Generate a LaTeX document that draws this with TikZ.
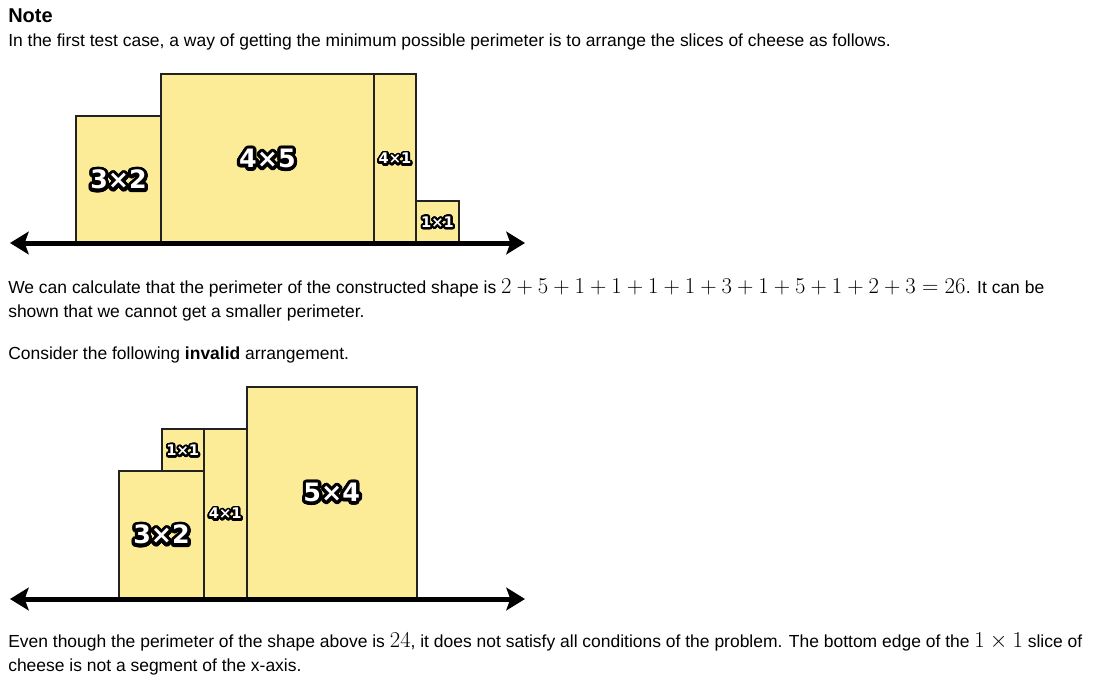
\RequirePackage{fix-cm}
\documentclass[tikz,border=0pt]{standalone}
\usepackage{fontspec}
\setmainfont{Liberation Sans}
\newfontfamily\slicefont{DejaVu Sans Bold}
\newfontfamily\rimfont{DejaVu Sans Bold}[FakeBold=3]
\usetikzlibrary{arrows.meta,positioning}

\definecolor{cheese}{RGB}{252,236,152}
\definecolor{rim}{RGB}{34,34,34}

% one slice unit
\newlength\cux
\setlength\cux{31.9pt}
\newlength\cuy
\setlength\cuy{31.7pt}

% white label with a black rim
\newcommand{\outlinetext}[2]{%
  \foreach \a in {0,22.5,...,337.5}{%
    \pgfmathsetmacro\dx{#1*cos(\a)}\pgfmathsetmacro\dy{#1*sin(\a)}%
    \rlap{\kern\dx pt\raisebox{\dy pt}{\rimfont\color{black}#2}}}%
  {\slicefont\color{white}#2}}
\newcommand{\bigmath}[1]{{\fontsize{17}{17}\selectfont$#1$}}

\tikzset{
  slice/.style={draw=rim, line width=1.5pt, fill=cheese, inner sep=0pt, outer sep=0pt,
    anchor=south west, font=\fontsize{19}{19}\selectfont},
  thin slice/.style={slice, font=\fontsize{11}{11}\selectfont},
  axis/.style={line width=3.75pt,
    {Stealth[length=14pt,width=17pt,inset=3pt]}-{Stealth[length=14pt,width=17pt,inset=3pt]}},
  prose/.style={anchor=base west, inner sep=0pt, font=\fontsize{13.1}{15.7}\selectfont}
}

\begin{document}
\begin{tikzpicture}[x=0.75pt, y=-0.75pt]
    \fill[white] (0,0) rectangle (1095,688);
    \useasboundingbox (0,0) rectangle (1095,688);

    % text
    \node[prose, font=\bfseries\fontsize{15}{18}\selectfont] (note) at (8,23) {Note};
    \node[prose] (first) at (8,47) {In the first test case, a way of getting the minimum possible perimeter is to arrange the slices of cheese as follows.};
    \node[prose] (calc) at (8,293) {We can calculate that the perimeter of the constructed shape is \bigmath{2+5+1+1+1+1+3+1+5+1+2+3=26}. It can be};
    \node[prose] (shown) at (8,317) {shown that we cannot get a smaller perimeter.};
    \node[prose] (consider) at (8,359) {Consider the following \textbf{invalid} arrangement.};
    \node[prose] (even) at (8,647) {Even though the perimeter of the shape above is \bigmath{24}, it does not satisfy all conditions of the problem. The bottom edge of the \bigmath{1\times 1} slice of};
    \node[prose] (cheese) at (8,671) {cheese is not a segment of the x-axis.};

    % first arrangement
    \coordinate (aleft) at (10,243);
    \coordinate (aright) at (525,243);
    \node[slice, minimum width=2*\cux, minimum height=3*\cuy] (a32) at (76,243) {\outlinetext{2.2}{3×2}};
    \node[slice, minimum width=5*\cux, minimum height=4*\cuy] (a45) at (a32.south east) {\outlinetext{2.2}{4×5}};
    \node[thin slice, minimum width=\cux, minimum height=4*\cuy] (a41) at (a45.south east) {\outlinetext{1.4}{4×1}};
    \node[thin slice, minimum width=\cux, minimum height=\cuy] (a11) at (a41.south east) {\outlinetext{1.4}{1×1}};
    \draw[axis] (aleft) -- (aright);

    % invalid arrangement
    \coordinate (bleft) at (10,599);
    \coordinate (bright) at (525,599);
    \node[slice, minimum width=2*\cux, minimum height=3*\cuy] (b32) at (119,598) {\outlinetext{2.2}{3×2}};
    \node[thin slice, anchor=south east, minimum width=\cux, minimum height=\cuy] (b11) at (b32.north east) {\outlinetext{1.4}{1×1}};
    \node[thin slice, minimum width=\cux, minimum height=4*\cuy] (b41) at (b32.south east) {\outlinetext{1.4}{4×1}};
    \node[slice, minimum width=4*\cux, minimum height=5*\cuy] (b54) at (b41.south east) {\outlinetext{2.2}{5×4}};
    \draw[axis] (bleft) -- (bright);
\end{tikzpicture}
\end{document}
